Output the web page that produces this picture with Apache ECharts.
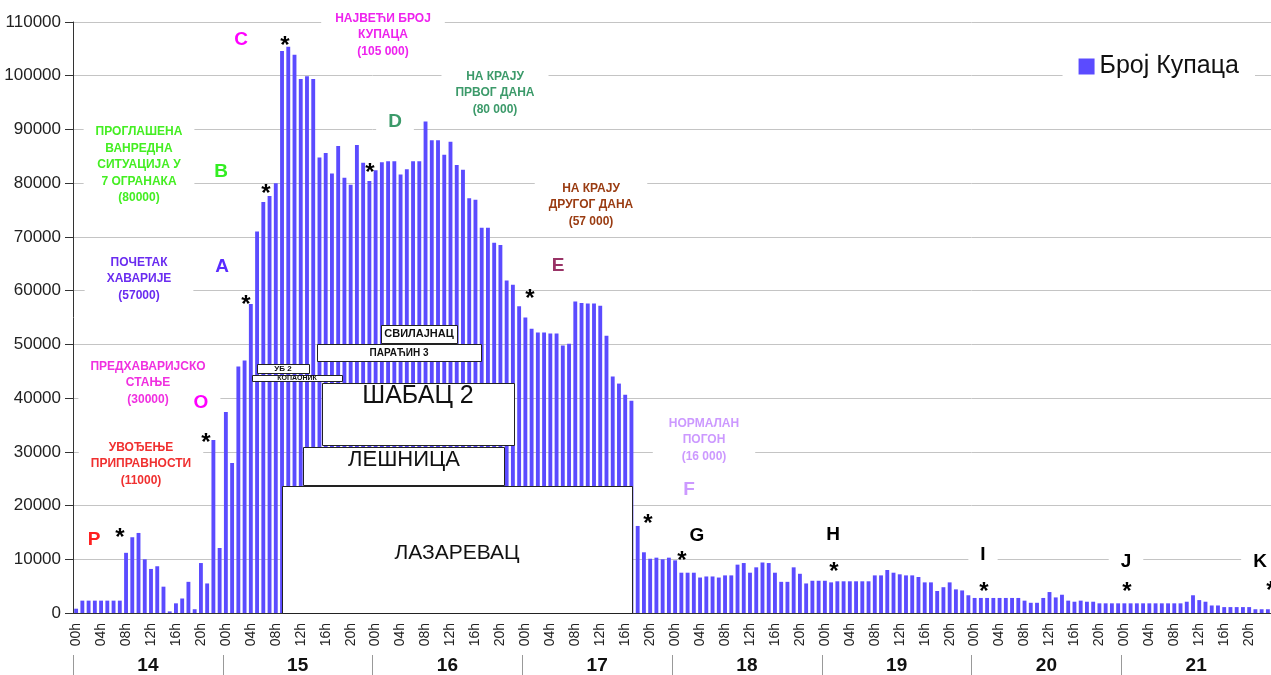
<!DOCTYPE html>
<html>
<head>
<meta charset="utf-8">
<script src="https://cdn.jsdelivr.net/npm/echarts@6/dist/echarts.min.js"></script>
<style>
html, body { margin: 0; padding: 0; background: #fff; }
#main { width: 1271px; height: 675px; }
</style>
</head>
<body>
<div id="main"></div>
<script>
// дани и сати
var days = ['14', '15', '16', '17', '18', '19', '20', '21'];
var hours = ['00h','01h','02h','03h','04h','05h','06h','07h','08h','09h','10h','11h',
             '12h','13h','14h','15h','16h','17h','18h','19h','20h','21h','22h','23h'];

// број купаца по сату (очитано са графика)
var day14 = [800, 2300, 2300, 2300, 2300, 2300, 2300, 2300, 11200, 14100, 14900, 10000,
             8200, 8700, 4900, 300, 1800, 2700, 5800, 700, 9300, 5500, 32200, 12100];
var day15 = [37400, 27900, 45900, 47000, 57500, 71000, 76500, 77600, 80000, 104600, 105400, 103900,
             99400, 99900, 99400, 84800, 85600, 81800, 86900, 81000, 79700, 87100, 83800, 80400];
var day16 = [82400, 83900, 84100, 84100, 81600, 82600, 84100, 84100, 91500, 88000, 88000, 85300,
             87700, 83400, 82500, 77200, 76900, 71700, 71700, 68900, 68500, 61900, 61100, 57100];
var day17 = [55000, 52900, 52200, 52200, 52000, 52000, 49800, 50100, 58000, 57700, 57600, 57600,
             57200, 51600, 44000, 42700, 40600, 39500, 16200, 11300, 10100, 10300, 10000, 10300];
var day18 = [9800, 7500, 7500, 7500, 6600, 6800, 6800, 6600, 7000, 7000, 9000, 9300,
             7500, 8500, 9400, 9300, 7500, 5800, 5800, 8500, 7300, 5500, 6000, 6000];
var day19 = [6000, 5700, 5900, 5900, 5900, 5900, 5900, 5900, 7000, 7000, 8000, 7500,
             7200, 7000, 7000, 6700, 5700, 5700, 4100, 4800, 5700, 4400, 4200, 3300];
var day20 = [2800, 2800, 2800, 2800, 2800, 2800, 2800, 2800, 2300, 1900, 1900, 2800,
             3900, 2900, 3400, 2300, 2100, 2300, 2100, 2100, 1800, 1800, 1800, 1800];
var day21 = [1800, 1800, 1800, 1800, 1800, 1800, 1800, 1800, 1800, 1800, 2100, 3300,
             2400, 2100, 1400, 1400, 1100, 1100, 1100, 1100, 1100, 700, 700, 700];

var kupci = [].concat(day14, day15, day16, day17, day18, day19, day20, day21);

var categories = [];
days.forEach(function (d) {
    hours.forEach(function (h) { categories.push(d + ' ' + h); });
});

var FONT = '"Liberation Sans", Arial, sans-serif';
var BAR = '#5b4bff';

function note(x, y, s, color, font, bg, pad) {
    return {
        type: 'text', z: 100, x: x, y: y,
        style: {
            text: s, fill: color, font: font + ' ' + FONT,
            align: 'center', verticalAlign: 'middle',
            textAlign: 'center', textVerticalAlign: 'middle',
            lineHeight: 16.5,
            backgroundColor: bg ? '#fff' : null,
            padding: pad || [2, 10]
        }
    };
}
function box(x0, y0, x1, y1) {
    return {
        type: 'rect', z: 99,
        shape: { x: x0 + 0.5, y: y0 + 0.5, width: x1 - x0, height: y1 - y0 },
        style: { fill: '#fff', stroke: '#222', lineWidth: 1 }
    };
}

var graphics = [];
// објашњења
graphics.push(note(383, 35, 'НАЈВЕЋИ БРОЈ\nКУПАЦА\n(105 000)', '#ee22ee', 'bold 12px', true, [2, 14]));
graphics.push(note(495, 93, 'НА КРАЈУ\nПРВОГ ДАНА\n(80 000)', '#3c9a6a', 'bold 12px', true, [2, 14]));
graphics.push(note(591, 205, 'НА КРАЈУ\nДРУГОГ ДАНА\n(57 000)', '#9a3c12', 'bold 12px', true, [2, 14]));
graphics.push(note(139, 165, 'ПРОГЛАШЕНА\nВАНРЕДНА\nСИТУАЦИЈА У\n7 ОГРАНАКА\n(80000)', '#44ee22', 'bold 12px', true, [2, 12]));
graphics.push(note(139, 279, 'ПОЧЕТАК\nХАВАРИЈЕ\n(57000)', '#6a2cf0', 'bold 12px', true, [2, 22]));
graphics.push(note(148, 383, 'ПРЕДХАВАРИЈСКО\nСТАЊЕ\n(30000)', '#f030e0', 'bold 12px', true, [2, 12]));
graphics.push(note(141, 464, 'УВОЂЕЊЕ\nПРИПРАВНОСТИ\n(11000)', '#f03030', 'bold 12px', true, [2, 12]));
graphics.push(note(704, 440, 'НОРМАЛАН\nПОГОН\n(16 000)', '#cc99ff', 'bold 12px', true, [2, 16]));

// слова
var letters = [
    ['P', 94, 540, '#ff2020'], ['O', 201, 403, '#ff00ff'], ['A', 222, 267, '#5a2cff'],
    ['B', 221, 172, '#33ee22'], ['C', 241, 40, '#ff00ff'], ['D', 395, 122, '#3c9a6a'],
    ['E', 558, 266, '#993366'], ['F', 689, 490, '#cc99ff'], ['G', 697, 536, '#000'],
    ['H', 833, 535, '#000'], ['I', 983, 555, '#000'], ['J', 1126, 562, '#000'], ['K', 1260, 562, '#000']
];
letters.forEach(function (l) {
    graphics.push(note(l[1], l[2], l[0], l[3], 'bold 19px', true, [2, 12]));
});

// звездице
var stars = [[120, 532], [206, 437], [246, 299], [266, 188], [285, 40], [370, 167], [530, 293],
             [648, 518], [682, 555], [834, 566], [984, 586], [1127, 586], [1271, 585]];
stars.forEach(function (s) {
    graphics.push(note(s[0], s[1] + 6, '*', '#000', 'bold 24px', false, [0, 0]));
});

// огранци
graphics.push(box(282, 486, 632, 613));
graphics.push(note(457, 553, 'ЛАЗАРЕВАЦ', '#111', '21px', false, [0, 0]));
graphics.push(box(303, 447, 504, 485));
graphics.push(note(404, 460, 'ЛЕШНИЦА', '#111', '22px', false, [0, 0]));
graphics.push(box(322, 383, 514, 445));
graphics.push(note(418, 396, 'ШАБАЦ 2', '#111', '25px', false, [0, 0]));
graphics.push(box(252, 375, 342, 381));
graphics.push(note(297, 378, 'КОПАОНИК', '#111', 'bold 7px', false, [0, 0]));
graphics.push(box(257, 364, 309, 373));
graphics.push(note(283, 369, 'УБ 2', '#111', 'bold 8px', false, [0, 0]));
graphics.push(box(317, 344, 481, 361));
graphics.push(note(399, 353, 'ПАРАЋИН 3', '#111', 'bold 10px', false, [0, 0]));
graphics.push(box(381, 325, 457, 343));
graphics.push(note(419, 334, 'СВИЛАЈНАЦ', '#111', 'bold 11px', false, [0, 0]));

var dom = document.getElementById('main');
var myChart = echarts.init(dom);
var option = {
    animation: false,
    textStyle: { fontFamily: FONT },
    legend: {
        data: ['Број Купаца'],
        right: 16, top: 48,
        icon: 'rect', itemWidth: 16, itemHeight: 16, itemGap: 8,
        backgroundColor: '#fff',
        padding: [6, 16],
        textStyle: { fontSize: 25, color: '#111', fontFamily: FONT }
    },
    grid: { left: 73, top: 22, width: 1208, height: 592 },
    xAxis: [
        {
            type: 'category',
            data: categories,
            axisLine: { lineStyle: { color: '#333' } },
            axisTick: { interval: 0, length: 5, lineStyle: { color: '#333' } },
            axisLabel: {
                interval: 3, rotate: 90, margin: 10,
                fontSize: 14, color: '#222', fontFamily: FONT,
                formatter: function (v) { return v.split(' ')[1]; }
            }
        },
        {
            type: 'category',
            data: days,
            position: 'bottom',
            offset: 42,
            axisLine: { show: false },
            axisTick: { show: true, length: 20, lineStyle: { color: '#999' } },
            axisLabel: { margin: 1, fontSize: 19, fontWeight: 'bold', color: '#111', fontFamily: FONT }
        }
    ],
    yAxis: {
        type: 'value',
        min: 0, max: 110000, interval: 10000,
        axisLine: { show: true, lineStyle: { color: '#333' } },
        axisTick: { show: true, length: 8, lineStyle: { color: '#333' } },
        axisLabel: {
            margin: 12, fontSize: 17, color: '#222', fontFamily: FONT,
            formatter: function (v) { return String(v); }
        },
        splitLine: { lineStyle: { color: '#c4c4c4' } }
    },
    series: [
        {
            name: 'Број Купаца',
            type: 'bar',
            data: kupci,
            barCategoryGap: '38%',
            itemStyle: { color: BAR }
        }
    ],
    graphic: graphics
};
myChart.setOption(option, true);
</script>
</body>
</html>
